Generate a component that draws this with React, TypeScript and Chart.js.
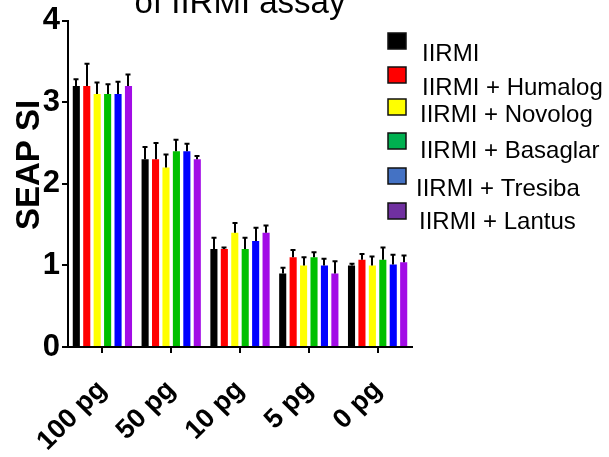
import React, { useEffect, useRef } from 'react';
import { Chart, registerables } from 'chart.js';

Chart.register(...registerables);

const categories = ['100 pg', '50 pg', '10 pg', '5 pg', '0 pg'];
const seriesNames = ['IIRMI', 'IIRMI + Humalog', 'IIRMI + Novolog', 'IIRMI + Basaglar', 'IIRMI + Tresiba', 'IIRMI + Lantus'];

const iirmi = [3.2, 2.3, 1.2, 0.9, 1.0];
const humalog = [3.2, 2.3, 1.2, 1.1, 1.07];
const novolog = [3.1, 2.2, 1.4, 1.0, 1.0];
const basaglar = [3.1, 2.4, 1.2, 1.1, 1.07];
const tresiba = [3.1, 2.4, 1.3, 1.0, 1.01];
const lantus = [3.2, 2.3, 1.4, 0.9, 1.04];

const iirmiErr = [0.08, 0.15, 0.14, 0.07, 0.02];
const humalogErr = [0.27, 0.2, 0.02, 0.09, 0.07];
const novologErr = [0.14, 0.16, 0.12, 0.1, 0.11];
const basaglarErr = [0.12, 0.14, 0.14, 0.06, 0.15];
const tresibaErr = [0.15, 0.09, 0.16, 0.08, 0.12];
const lantusErr = [0.14, 0.04, 0.09, 0.15, 0.08];

const yTicks = [0, 1, 2, 3, 4];
const titleText = 'of IIRMI assay';
const yTitle = 'SEAP SI';

const barColors = ['#000000', '#FF0000', '#FFFF00', '#00C000', '#0000FF', '#A20CE6'];
const legendColors = ['#000000', '#FF0000', '#FFFF00', '#00B050', '#4472C4', '#7030A0'];

const FONT = '"Liberation Sans", Arial, sans-serif';

const allValues = [iirmi, humalog, novolog, basaglar, tresiba, lantus];
const allErrors = [iirmiErr, humalogErr, novologErr, basaglarErr, tresibaErr, lantusErr];

const extrasPlugin = {
  id: 'extras',
  afterDatasetsDraw(chart: any) {
    const ctx = chart.ctx;
    const yScale = chart.scales.y;
    ctx.save();
    ctx.strokeStyle = '#000';
    ctx.lineWidth = 2;
    chart.data.datasets.forEach((ds: any, di: number) => {
      const meta = chart.getDatasetMeta(di);
      meta.data.forEach((el: any, i: number) => {
        const top = yScale.getPixelForValue(ds.data[i] + ds.errors[i]);
        const x = Math.round(el.x);
        ctx.beginPath();
        ctx.moveTo(x, el.y);
        ctx.lineTo(x, top);
        ctx.moveTo(x - 2.5, top);
        ctx.lineTo(x + 2.5, top);
        ctx.stroke();
      });
    });
    ctx.restore();
  },
  afterDraw(chart: any) {
    const ctx = chart.ctx;
    ctx.save();
    // partially visible title (second line of a cropped title)
    ctx.fillStyle = '#000';
    ctx.font = `33px ${FONT}`;
    ctx.textAlign = 'center';
    ctx.textBaseline = 'alphabetic';
    ctx.fillText(titleText, 240, 13);

    // y title
    ctx.save();
    ctx.translate(30, 165);
    ctx.rotate(-Math.PI / 2);
    ctx.font = `bold 33px ${FONT}`;
    ctx.textAlign = 'center';
    ctx.textBaseline = 'middle';
    ctx.fillText(yTitle, 0, 0);
    ctx.restore();

    // legend
    const sqTop = [33, 67, 99, 133, 168, 203];
    const txtX = [422, 422, 420, 420, 416, 419];
    const txtBase = [61, 95, 122, 158, 196, 229];
    ctx.font = `24px ${FONT}`;
    ctx.textAlign = 'left';
    ctx.textBaseline = 'alphabetic';
    seriesNames.forEach((name, i) => {
      ctx.fillStyle = legendColors[i];
      ctx.fillRect(388, sqTop[i], 18, 16);
      ctx.strokeStyle = '#111';
      ctx.lineWidth = 1.5;
      ctx.strokeRect(388, sqTop[i], 18, 16);
      ctx.fillStyle = '#000';
      ctx.fillText(name, txtX[i], txtBase[i]);
    });
    ctx.restore();
  },
};

export default function App() {
  const ref = useRef<HTMLCanvasElement | null>(null);
  useEffect(() => {
    if (!ref.current) return;
    const chart = new Chart(ref.current, {
      type: 'bar',
      data: {
        labels: categories,
        datasets: seriesNames.map((name, i) => ({
          label: name,
          data: allValues[i],
          errors: allErrors[i],
          backgroundColor: barColors[i],
          borderWidth: 0,
          barPercentage: 0.68,
          categoryPercentage: 0.91,
        })) as any,
      },
      options: {
        responsive: false,
        animation: false,
        devicePixelRatio: 1,
        layout: { padding: { left: 0, right: 197, top: 20, bottom: 0 } },
        plugins: {
          legend: { display: false },
          title: { display: false },
          tooltip: { enabled: false },
        },
        scales: {
          x: {
            grid: { display: true, drawOnChartArea: false, drawTicks: true, tickLength: 6, offset: false, color: '#000', lineWidth: 2 },
            border: { display: true, color: '#000', width: 2 },
            ticks: {
              color: '#000',
              font: { family: FONT, size: 27, weight: 'bold' },
              minRotation: 45,
              maxRotation: 45,
              autoSkip: false,
              padding: 21,
            },
            afterFit: (s: any) => { s.height = 110; },
          },
          y: {
            min: 0,
            max: 4,
            grid: { display: true, drawOnChartArea: false, drawTicks: true, tickLength: 6, color: '#000', lineWidth: 2 },
            border: { display: true, color: '#000', width: 2 },
            afterBuildTicks: (s: any) => { s.ticks = yTicks.map((v) => ({ value: v })); },
            ticks: {
              color: '#000',
              font: { family: FONT, size: 31, weight: 'bold' },
              padding: 2,
            },
            afterFit: (s: any) => { s.width = 68; },
          },
        },
      },
      plugins: [extrasPlugin],
    });
    return () => chart.destroy();
  }, []);
  return (
    <div style={{ position: 'fixed', left: 0, top: 0, width: 609, height: 457, background: '#fff' }}>
      <canvas ref={ref} width={609} height={457} style={{ width: 609, height: 457, display: 'block' }} />
    </div>
  );
}
